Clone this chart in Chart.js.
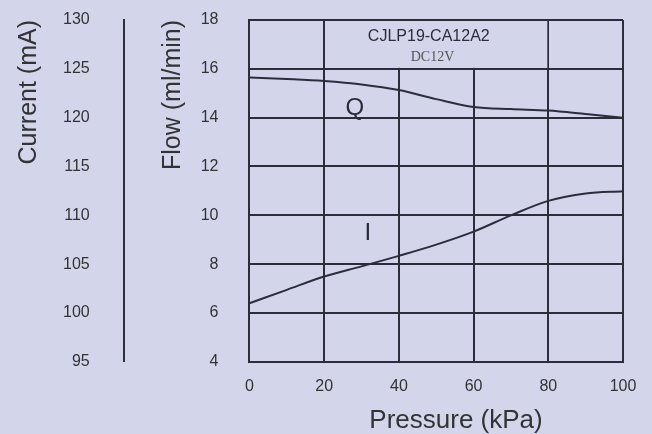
<!DOCTYPE html>
<html>
<head>
<meta charset="utf-8">
<script src="https://cdn.jsdelivr.net/npm/chart.js@4.4.1/dist/chart.umd.min.js"></script>
<style>
  html, body { margin: 0; padding: 0; background: #d3d6ea; }
</style>
</head>
<body>
<canvas id="myChart" width="652" height="434"></canvas>
<script>
// data
const pressure = [0, 10, 20, 30, 40, 50, 60, 70, 80, 90, 100];
const flowQ = [15.64, 15.58, 15.5, 15.36, 15.13, 14.76, 14.44, 14.35, 14.29, 14.15, 14.0];
const currentI = [101.0, 102.37, 103.73, 104.77, 105.85, 107.0, 108.33, 110.0, 111.48, 112.24, 112.47];

const pressureRange = [0, 100, 20];
const flowRange = [4, 18, 2];
const currentRange = [95, 130, 5];

const BG = "#d3d6ea";
const INK = "#2d2d3a";
const TXT = "#333333";

// box at the top of the grid that holds the model name
const titleBox = { x0: 20, x1: 80, y0: 16, y1: 18 };

const annotations = {
    id: "annotations",
    beforeDraw(chart) {
        const c = chart.ctx;
        c.save();
        c.fillStyle = BG;
        c.fillRect(0, 0, chart.width, chart.height);
        c.restore();
    },
    beforeDatasetsDraw(chart) {
        const c = chart.ctx;
        const xs = chart.scales.x, ys = chart.scales.y;
        const l = xs.getPixelForValue(titleBox.x0) + 1;
        const r = xs.getPixelForValue(titleBox.x1) - 1;
        const t = ys.getPixelForValue(titleBox.y1) + 1;
        const b = ys.getPixelForValue(titleBox.y0) - 1;
        c.save();
        c.fillStyle = BG;
        c.fillRect(l, t, r - l, b - t);
        c.restore();
    },
    afterDatasetsDraw(chart) {
        const c = chart.ctx;
        const xs = chart.scales.x, ys = chart.scales.y;
        const put = (text, x, y, font, color) => {
            c.font = font;
            c.fillStyle = color;
            c.fillText(text, xs.getPixelForValue(x), ys.getPixelForValue(y));
        };
        c.save();
        c.textAlign = "center";
        c.textBaseline = "middle";
        put("CJLP19-CA12A2", 48, 17.3, "16px 'Liberation Sans'", INK);
        put("DC12V", 49, 16.47, "14px 'Liberation Serif'", "#555555");
        put("Q", 28.2, 14.38, "24px 'Liberation Sans'", INK);
        put("I", 31.7, 9.24, "24px 'Liberation Sans'", INK);
        // x axis title sits a little right of centre in the original
        c.font = "26px 'Liberation Sans'";
        c.fillStyle = TXT;
        c.fillText("Pressure (kPa)", xs.getPixelForValue(55.3), xs.bottom + 25);
        c.restore();
    }
};

const ctx = document.getElementById("myChart").getContext("2d");

new Chart(ctx, {
    type: "line",
    data: {
        datasets: [
            {
                label: "Q",
                data: pressure.map((p, i) => ({ x: p, y: flowQ[i] })),
                yAxisID: "y",
                borderColor: INK,
                borderWidth: 2,
                pointRadius: 0,
                cubicInterpolationMode: "monotone"
            },
            {
                label: "I",
                data: pressure.map((p, i) => ({ x: p, y: currentI[i] })),
                yAxisID: "y1",
                borderColor: INK,
                borderWidth: 2,
                pointRadius: 0,
                cubicInterpolationMode: "monotone"
            }
        ]
    },
    options: {
        responsive: false,
        animation: false,
        layout: { padding: { left: 0, top: 20, right: 29, bottom: 38 } },
        plugins: {
            legend: { display: false },
            tooltip: { enabled: false }
        },
        scales: {
            x: {
                type: "linear",
                min: pressureRange[0],
                max: pressureRange[1],
                ticks: { stepSize: pressureRange[2], padding: 0, color: TXT,
                         font: { family: "Liberation Sans", size: 16 } },
                grid: { color: INK, lineWidth: 2, drawTicks: true, tickLength: 15, tickColor: "transparent" },
                border: { color: INK, width: 2 }
            },
            y: {
                position: "left",
                weight: 0,
                min: flowRange[0],
                max: flowRange[1],
                ticks: { stepSize: flowRange[2], padding: 0, color: TXT,
                         font: { family: "Liberation Sans", size: 16 } },
                grid: { color: INK, lineWidth: 2, drawTicks: true, tickLength: 31, tickColor: "transparent" },
                border: { color: INK, width: 2 },
                title: { display: true, text: "Flow (ml/min)", align: "end", color: TXT,
                         font: { family: "Liberation Sans", size: 25, lineHeight: 1.2 },
                         padding: { top: 34, bottom: 13 } }
            },
            y1: {
                position: "left",
                weight: 1,
                min: currentRange[0],
                max: currentRange[1],
                ticks: { stepSize: currentRange[2], padding: 0, color: TXT,
                         font: { family: "Liberation Sans", size: 16 } },
                grid: { drawOnChartArea: false, drawTicks: true, tickLength: 34, tickColor: "transparent" },
                border: { color: INK, width: 2 },
                title: { display: true, text: "Current (mA)", align: "end", color: TXT,
                         font: { family: "Liberation Sans", size: 25, lineHeight: 1.2 },
                         padding: { top: 14, bottom: 19 } }
            }
        }
    },
    plugins: [annotations]
});
</script>
</body>
</html>
